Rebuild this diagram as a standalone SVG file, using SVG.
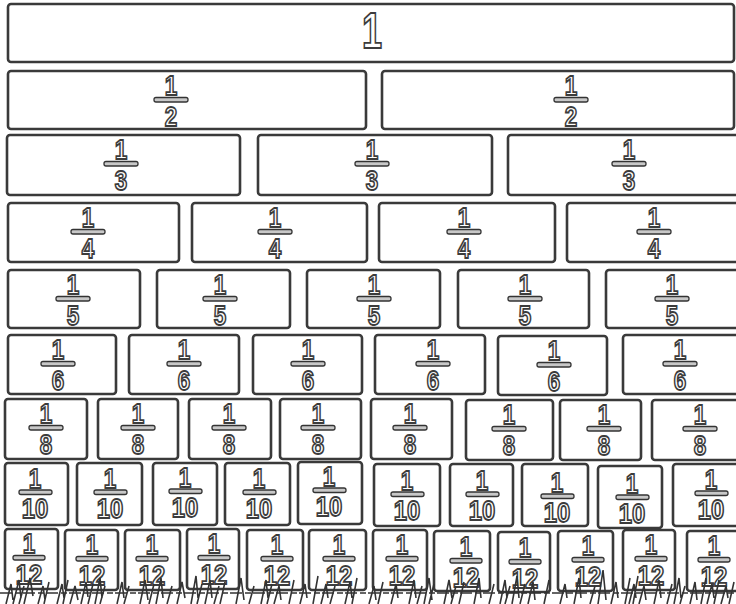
<svg xmlns="http://www.w3.org/2000/svg" width="736" height="604" viewBox="0 0 736 604">
<style>
.box{fill:#fff;stroke:#3a3a3a;stroke-width:2.6}
.d{font-family:"Liberation Sans",Arial,sans-serif;font-weight:bold;font-size:28px;fill:#fff;stroke:#3c3c3c;stroke-width:1.8;text-anchor:middle}
.big{font-size:50px;stroke-width:2}
.bar{fill:#c8c8c8;stroke:#333;stroke-width:1.3}
.scr{fill:none;stroke:#333;stroke-width:1.6}
</style>
<rect width="736" height="604" fill="#fff"/>
<g id="row1">
<g id="whole"><rect class="box" x="8" y="4" width="726" height="58" rx="3"/><text class="d big" transform="translate(372 48) scale(0.72 1)">1</text></g>
</g>
<g id="row2">
<g id="h1"><rect class="box" x="8" y="71" width="358" height="58" rx="3"/><text class="d" transform="translate(171 95) scale(0.8 1)">1</text><rect class="bar" x="154" y="97.5" width="34" height="4.5" rx="2"/><text class="d" transform="translate(171 126) scale(0.8 1)">2</text></g>
<g id="h2"><rect class="box" x="382" y="71" width="352" height="58" rx="3"/><text class="d" transform="translate(571 95) scale(0.8 1)">1</text><rect class="bar" x="554" y="97.5" width="34" height="4.5" rx="2"/><text class="d" transform="translate(571 126) scale(0.8 1)">2</text></g>
</g>
<g id="row3">
<g id="t1"><rect class="box" x="7" y="135" width="233" height="60" rx="3"/><text class="d" transform="translate(121 159) scale(0.8 1)">1</text><rect class="bar" x="104" y="161.5" width="34" height="4.5" rx="2"/><text class="d" transform="translate(121 190) scale(0.8 1)">3</text></g>
<g id="t2"><rect class="box" x="258" y="135" width="234" height="60" rx="3"/><text class="d" transform="translate(372 159) scale(0.8 1)">1</text><rect class="bar" x="355" y="161.5" width="34" height="4.5" rx="2"/><text class="d" transform="translate(372 190) scale(0.8 1)">3</text></g>
<g id="t3"><rect class="box" x="508" y="135" width="238" height="60" rx="3"/><text class="d" transform="translate(629 159) scale(0.8 1)">1</text><rect class="bar" x="612" y="161.5" width="34" height="4.5" rx="2"/><text class="d" transform="translate(629 190) scale(0.8 1)">3</text></g>
</g>
<g id="row4">
<g id="q1"><rect class="box" x="8" y="203" width="171" height="59" rx="3"/><text class="d" transform="translate(88 227) scale(0.8 1)">1</text><rect class="bar" x="71" y="229.5" width="34" height="4.5" rx="2"/><text class="d" transform="translate(88 258) scale(0.8 1)">4</text></g>
<g id="q2"><rect class="box" x="192" y="203" width="175" height="59" rx="3"/><text class="d" transform="translate(275 227) scale(0.8 1)">1</text><rect class="bar" x="258" y="229.5" width="34" height="4.5" rx="2"/><text class="d" transform="translate(275 258) scale(0.8 1)">4</text></g>
<g id="q3"><rect class="box" x="379" y="203" width="176" height="59" rx="3"/><text class="d" transform="translate(464 227) scale(0.8 1)">1</text><rect class="bar" x="447" y="229.5" width="34" height="4.5" rx="2"/><text class="d" transform="translate(464 258) scale(0.8 1)">4</text></g>
<g id="q4"><rect class="box" x="567" y="203" width="178" height="59" rx="3"/><text class="d" transform="translate(654 227) scale(0.8 1)">1</text><rect class="bar" x="637" y="229.5" width="34" height="4.5" rx="2"/><text class="d" transform="translate(654 258) scale(0.8 1)">4</text></g>
</g>
<g id="row5">
<g id="f1"><rect class="box" x="8" y="270" width="132" height="58" rx="3"/><text class="d" transform="translate(73 294) scale(0.8 1)">1</text><rect class="bar" x="56" y="296.5" width="34" height="4.5" rx="2"/><text class="d" transform="translate(73 325) scale(0.8 1)">5</text></g>
<g id="f2"><rect class="box" x="157" y="270" width="133" height="58" rx="3"/><text class="d" transform="translate(220 294) scale(0.8 1)">1</text><rect class="bar" x="203" y="296.5" width="34" height="4.5" rx="2"/><text class="d" transform="translate(220 325) scale(0.8 1)">5</text></g>
<g id="f3"><rect class="box" x="307" y="270" width="133" height="58" rx="3"/><text class="d" transform="translate(374 294) scale(0.8 1)">1</text><rect class="bar" x="357" y="296.5" width="34" height="4.5" rx="2"/><text class="d" transform="translate(374 325) scale(0.8 1)">5</text></g>
<g id="f4"><rect class="box" x="458" y="270" width="131" height="58" rx="3"/><text class="d" transform="translate(525 294) scale(0.8 1)">1</text><rect class="bar" x="508" y="296.5" width="34" height="4.5" rx="2"/><text class="d" transform="translate(525 325) scale(0.8 1)">5</text></g>
<g id="f5"><rect class="box" x="606" y="270" width="139" height="58" rx="3"/><text class="d" transform="translate(672 294) scale(0.8 1)">1</text><rect class="bar" x="655" y="296.5" width="34" height="4.5" rx="2"/><text class="d" transform="translate(672 325) scale(0.8 1)">5</text></g>
</g>
<g id="row6">
<g id="s1"><rect class="box" x="8" y="335" width="108" height="59" rx="3"/><text class="d" transform="translate(58 359) scale(0.8 1)">1</text><rect class="bar" x="41" y="361.5" width="34" height="4.5" rx="2"/><text class="d" transform="translate(58 390) scale(0.8 1)">6</text></g>
<g id="s2"><rect class="box" x="129" y="335" width="110" height="59" rx="3"/><text class="d" transform="translate(184 359) scale(0.8 1)">1</text><rect class="bar" x="167" y="361.5" width="34" height="4.5" rx="2"/><text class="d" transform="translate(184 390) scale(0.8 1)">6</text></g>
<g id="s3"><rect class="box" x="253" y="335" width="109" height="59" rx="3"/><text class="d" transform="translate(308 359) scale(0.8 1)">1</text><rect class="bar" x="291" y="361.5" width="34" height="4.5" rx="2"/><text class="d" transform="translate(308 390) scale(0.8 1)">6</text></g>
<g id="s4"><rect class="box" x="375" y="335" width="110" height="59" rx="3"/><text class="d" transform="translate(433 359) scale(0.8 1)">1</text><rect class="bar" x="416" y="361.5" width="34" height="4.5" rx="2"/><text class="d" transform="translate(433 390) scale(0.8 1)">6</text></g>
<g id="s5"><rect class="box" x="498" y="336" width="109" height="59" rx="3"/><text class="d" transform="translate(554 360) scale(0.8 1)">1</text><rect class="bar" x="537" y="362.5" width="34" height="4.5" rx="2"/><text class="d" transform="translate(554 391) scale(0.8 1)">6</text></g>
<g id="s6"><rect class="box" x="623" y="335" width="122" height="59" rx="3"/><text class="d" transform="translate(680 359) scale(0.8 1)">1</text><rect class="bar" x="663" y="361.5" width="34" height="4.5" rx="2"/><text class="d" transform="translate(680 390) scale(0.8 1)">6</text></g>
</g>
<g id="row8ths">
<g id="e1"><rect class="box" x="5" y="399" width="82" height="60" rx="3"/><text class="d" transform="translate(46 423) scale(0.8 1)">1</text><rect class="bar" x="29" y="425.5" width="34" height="4.5" rx="2"/><text class="d" transform="translate(46 454) scale(0.8 1)">8</text></g>
<g id="e2"><rect class="box" x="98" y="399" width="80" height="60" rx="3"/><text class="d" transform="translate(138 423) scale(0.8 1)">1</text><rect class="bar" x="121" y="425.5" width="34" height="4.5" rx="2"/><text class="d" transform="translate(138 454) scale(0.8 1)">8</text></g>
<g id="e3"><rect class="box" x="189" y="399" width="82" height="60" rx="3"/><text class="d" transform="translate(229 423) scale(0.8 1)">1</text><rect class="bar" x="212" y="425.5" width="34" height="4.5" rx="2"/><text class="d" transform="translate(229 454) scale(0.8 1)">8</text></g>
<g id="e4"><rect class="box" x="280" y="399" width="81" height="60" rx="3"/><text class="d" transform="translate(318 423) scale(0.8 1)">1</text><rect class="bar" x="301" y="425.5" width="34" height="4.5" rx="2"/><text class="d" transform="translate(318 454) scale(0.8 1)">8</text></g>
<g id="e5"><rect class="box" x="371" y="399" width="81" height="60" rx="3"/><text class="d" transform="translate(410 423) scale(0.8 1)">1</text><rect class="bar" x="393" y="425.5" width="34" height="4.5" rx="2"/><text class="d" transform="translate(410 454) scale(0.8 1)">8</text></g>
<g id="e6"><rect class="box" x="466" y="400" width="87" height="60" rx="3"/><text class="d" transform="translate(509 424) scale(0.8 1)">1</text><rect class="bar" x="492" y="426.5" width="34" height="4.5" rx="2"/><text class="d" transform="translate(509 455) scale(0.8 1)">8</text></g>
<g id="e7"><rect class="box" x="560" y="400" width="81" height="60" rx="3"/><text class="d" transform="translate(604 424) scale(0.8 1)">1</text><rect class="bar" x="587" y="426.5" width="34" height="4.5" rx="2"/><text class="d" transform="translate(604 455) scale(0.8 1)">8</text></g>
<g id="e8"><rect class="box" x="652" y="400" width="93" height="60" rx="3"/><text class="d" transform="translate(700 424) scale(0.8 1)">1</text><rect class="bar" x="683" y="426.5" width="34" height="4.5" rx="2"/><text class="d" transform="translate(700 455) scale(0.8 1)">8</text></g>
</g>
<g id="row10ths">
<g id="x1"><rect class="box" x="5" y="463" width="63" height="62" rx="3"/><text class="d" transform="translate(35 488) scale(0.8 1)">1</text><rect class="bar" x="19" y="490" width="33" height="4.5" rx="2"/><text class="d" transform="translate(35 518) scale(0.85 1)">10</text></g>
<g id="x2"><rect class="box" x="77" y="463" width="65" height="62" rx="3"/><text class="d" transform="translate(110 488) scale(0.8 1)">1</text><rect class="bar" x="94" y="490" width="33" height="4.5" rx="2"/><text class="d" transform="translate(110 518) scale(0.85 1)">10</text></g>
<g id="x3"><rect class="box" x="153" y="463" width="64" height="62" rx="3"/><text class="d" transform="translate(185 487) scale(0.8 1)">1</text><rect class="bar" x="169" y="489" width="33" height="4.5" rx="2"/><text class="d" transform="translate(185 517) scale(0.85 1)">10</text></g>
<g id="x4"><rect class="box" x="225" y="463" width="65" height="62" rx="3"/><text class="d" transform="translate(259 488) scale(0.8 1)">1</text><rect class="bar" x="243" y="490" width="33" height="4.5" rx="2"/><text class="d" transform="translate(259 518) scale(0.85 1)">10</text></g>
<g id="x5"><rect class="box" x="298" y="462" width="64" height="62" rx="3"/><text class="d" transform="translate(329 486) scale(0.8 1)">1</text><rect class="bar" x="313" y="488" width="33" height="4.5" rx="2"/><text class="d" transform="translate(329 516) scale(0.85 1)">10</text></g>
<g id="x6"><rect class="box" x="374" y="464" width="66" height="62" rx="3"/><text class="d" transform="translate(407 490) scale(0.8 1)">1</text><rect class="bar" x="391" y="492" width="33" height="4.5" rx="2"/><text class="d" transform="translate(407 520) scale(0.85 1)">10</text></g>
<g id="x7"><rect class="box" x="450" y="464" width="63" height="62" rx="3"/><text class="d" transform="translate(482 490) scale(0.8 1)">1</text><rect class="bar" x="466" y="492" width="33" height="4.5" rx="2"/><text class="d" transform="translate(482 520) scale(0.85 1)">10</text></g>
<g id="x8"><rect class="box" x="522" y="464" width="66" height="62" rx="3"/><text class="d" transform="translate(557 492) scale(0.8 1)">1</text><rect class="bar" x="541" y="494" width="33" height="4.5" rx="2"/><text class="d" transform="translate(557 522) scale(0.85 1)">10</text></g>
<g id="x9"><rect class="box" x="598" y="466" width="64" height="62" rx="3"/><text class="d" transform="translate(632 493) scale(0.8 1)">1</text><rect class="bar" x="616" y="495" width="33" height="4.5" rx="2"/><text class="d" transform="translate(632 523) scale(0.85 1)">10</text></g>
<g id="x10"><rect class="box" x="673" y="464" width="72" height="62" rx="3"/><text class="d" transform="translate(711 489) scale(0.8 1)">1</text><rect class="bar" x="695" y="491" width="33" height="4.5" rx="2"/><text class="d" transform="translate(711 519) scale(0.85 1)">10</text></g>
</g>
<g id="row12ths">
<g id="w1"><rect class="box" x="5" y="529" width="53" height="60" rx="3"/><text class="d" transform="translate(29 553) scale(0.8 1)">1</text><rect class="bar" x="13" y="555.5" width="32" height="4.5" rx="2"/><text class="d" transform="translate(29 584) scale(0.85 1)">12</text></g>
<g id="w2"><rect class="box" x="65" y="530" width="53" height="60" rx="3"/><text class="d" transform="translate(92 554) scale(0.8 1)">1</text><rect class="bar" x="76" y="556.5" width="32" height="4.5" rx="2"/><text class="d" transform="translate(92 585) scale(0.85 1)">12</text></g>
<g id="w3"><rect class="box" x="125" y="530" width="55" height="60" rx="3"/><text class="d" transform="translate(152 554) scale(0.8 1)">1</text><rect class="bar" x="136" y="556.5" width="32" height="4.5" rx="2"/><text class="d" transform="translate(152 585) scale(0.85 1)">12</text></g>
<g id="w4"><rect class="box" x="187" y="529" width="52" height="60" rx="3"/><text class="d" transform="translate(214 553) scale(0.8 1)">1</text><rect class="bar" x="198" y="555.5" width="32" height="4.5" rx="2"/><text class="d" transform="translate(214 584) scale(0.85 1)">12</text></g>
<g id="w5"><rect class="box" x="247" y="530" width="56" height="60" rx="3"/><text class="d" transform="translate(277 554) scale(0.8 1)">1</text><rect class="bar" x="261" y="556.5" width="32" height="4.5" rx="2"/><text class="d" transform="translate(277 585) scale(0.85 1)">12</text></g>
<g id="w6"><rect class="box" x="309" y="530" width="57" height="60" rx="3"/><text class="d" transform="translate(339 554) scale(0.8 1)">1</text><rect class="bar" x="323" y="556.5" width="32" height="4.5" rx="2"/><text class="d" transform="translate(339 585) scale(0.85 1)">12</text></g>
<g id="w7"><rect class="box" x="373" y="530" width="54" height="60" rx="3"/><text class="d" transform="translate(402 554) scale(0.8 1)">1</text><rect class="bar" x="386" y="556.5" width="32" height="4.5" rx="2"/><text class="d" transform="translate(402 585) scale(0.85 1)">12</text></g>
<g id="w8"><rect class="box" x="434" y="531" width="56" height="60" rx="3"/><text class="d" transform="translate(466 556) scale(0.8 1)">1</text><rect class="bar" x="450" y="558.5" width="32" height="4.5" rx="2"/><text class="d" transform="translate(466 587) scale(0.85 1)">12</text></g>
<g id="w9"><rect class="box" x="498" y="532" width="52" height="60" rx="3"/><text class="d" transform="translate(525 557) scale(0.8 1)">1</text><rect class="bar" x="509" y="559.5" width="32" height="4.5" rx="2"/><text class="d" transform="translate(525 588) scale(0.85 1)">12</text></g>
<g id="w10"><rect class="box" x="558" y="531" width="55" height="60" rx="3"/><text class="d" transform="translate(588 555) scale(0.8 1)">1</text><rect class="bar" x="572" y="557.5" width="32" height="4.5" rx="2"/><text class="d" transform="translate(588 586) scale(0.85 1)">12</text></g>
<g id="w11"><rect class="box" x="623" y="530" width="52" height="60" rx="3"/><text class="d" transform="translate(651 554) scale(0.8 1)">1</text><rect class="bar" x="635" y="556.5" width="32" height="4.5" rx="2"/><text class="d" transform="translate(651 585) scale(0.85 1)">12</text></g>
<g id="w12"><rect class="box" x="687" y="531" width="58" height="60" rx="3"/><text class="d" transform="translate(714 555) scale(0.8 1)">1</text><rect class="bar" x="698" y="557.5" width="32" height="4.5" rx="2"/><text class="d" transform="translate(714 586) scale(0.85 1)">12</text></g>
</g>
<g id="scribble">
<line class="scr" x1="0" y1="593" x2="736" y2="593" stroke-dasharray="12 3 6 2"/>
<path class="scr" d="M6 604L11 584L13 600M13 604L19 580L21 598M19 604L24 586M24 604L30 578L33 596M38 604L43 586L45 600M44 604L49 582M57 604L62 584L64 598M63 604L68 580M70 604L75 586L78 600M81 604L86 582L88 597M88 604L93 584M95 604L100 578L102 598M100 604L105 586M117 604L122 582L124 598M124 604L129 586M140 604L145 580L148 600M149 604L154 584M156 604L161 578L163 598M167 604L172 586M177 604L182 582L185 598M191 604L196 576L198 598M197 604L202 584M205 604L210 580L212 598M214 604L219 586M220 604L225 582M236 604L241 578L244 600M249 604L254 586M261 604L266 580L268 598M267 604L272 584M274 604L279 586L281 600M289 604L294 580M300 604L305 584L307 598M313 604L318 576M321 604L326 584L328 598M330 604L335 586M345 604L350 582L352 598M352 604L357 578M369 604L374 586L376 600M378 604L383 582M391 604L396 584L398 598M409 604L414 580L416 598M417 604L422 586M424 604L429 578L432 600M429 604L434 584M444 604L449 580L452 598M451 604L456 586M459 604L464 582M474 604L479 578L481 598M489 604L494 584M500 604L505 580L507 598M505 604L510 586M512 604L517 576L519 598M520 604L525 584M528 604L533 582L535 600M544 604L549 580M560 604L565 584L567 598M574 604L579 578L581 598M590 604L595 586M598 604L603 570L606 600M611 604L616 582L618 598M625 604L630 578M629 604L634 584L636 598M633 604L638 576M639 604L644 586L646 600M654 604L659 580L661 598M667 604L672 584M674 604L679 578L681 598M680 604L685 586M690 604L695 582L697 600M701 604L706 578M707 604L712 584L714 598M714 604L719 580M721 604L726 586L728 598M729 604L734 582"/>
</g>
</svg>
